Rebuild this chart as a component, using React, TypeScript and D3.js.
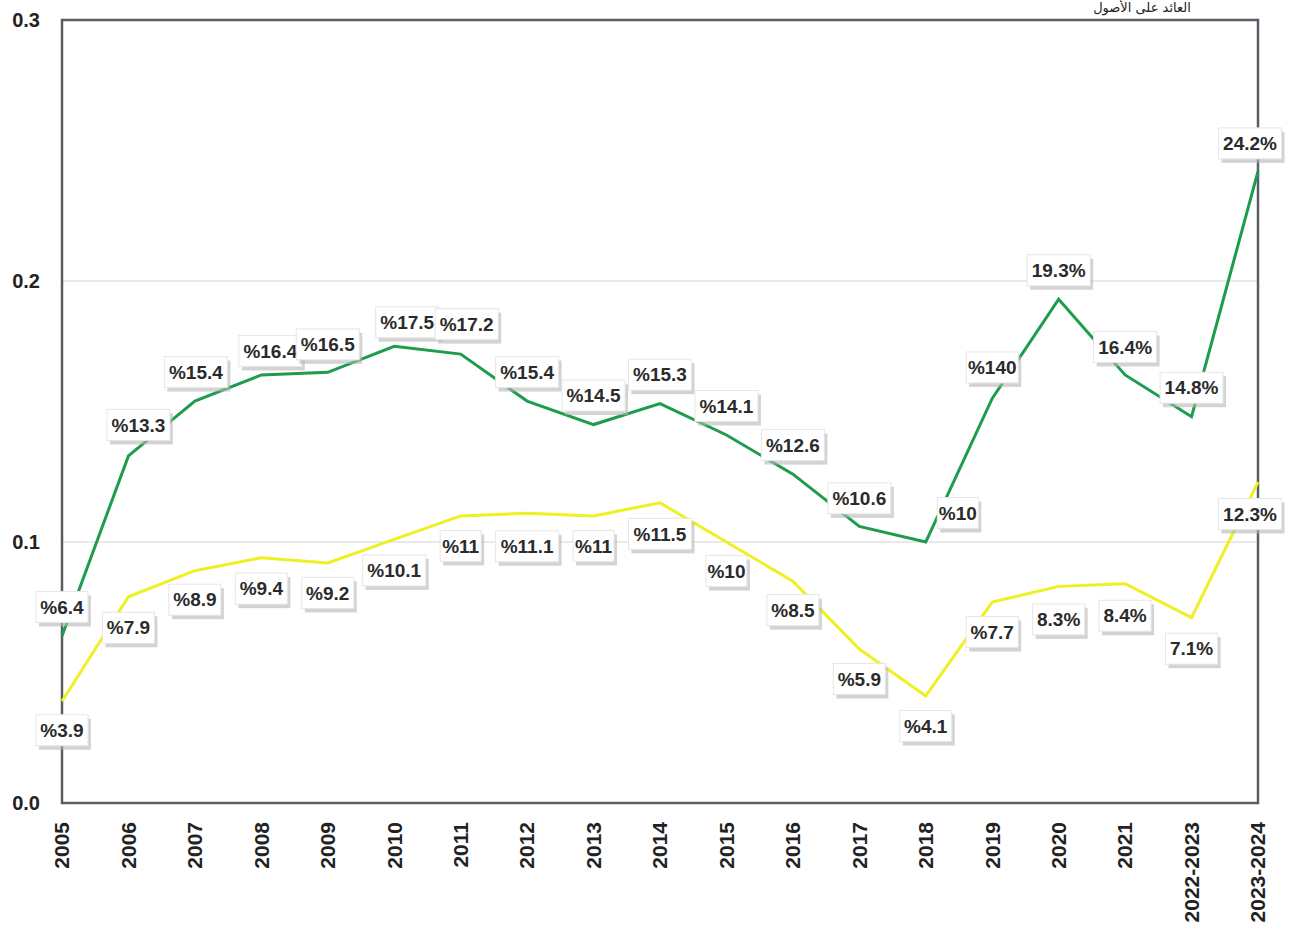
import { useMemo } from "react";
import * as d3 from "d3";

const WIDTH = 1291;
const HEIGHT = 942;
const MARGIN = { top: 20, right: 31, bottom: 139, left: 62 };

const categories = [
  "2005", "2006", "2007", "2008", "2009", "2010", "2011", "2012", "2013", "2014",
  "2015", "2016", "2017", "2018", "2019", "2020", "2021", "2022-2023", "2023-2024",
];

// green series (upper line) and yellow series (lower line)
const greenValues = [
  0.064, 0.133, 0.154, 0.164, 0.165, 0.175, 0.172, 0.154, 0.145, 0.153,
  0.141, 0.126, 0.106, 0.1, 0.155, 0.193, 0.164, 0.148, 0.242,
];
const greenLabels = [
  "%6.4", "%13.3", "%15.4", "%16.4", "%16.5", "%17.5", "%17.2", "%15.4", "%14.5", "%15.3",
  "%14.1", "%12.6", "%10.6", "%10", "%140", "19.3%", "16.4%", "14.8%", "24.2%",
];
const yellowValues = [
  0.039, 0.079, 0.089, 0.094, 0.092, 0.101, 0.11, 0.111, 0.11, 0.115,
  0.1, 0.085, 0.059, 0.041, 0.077, 0.083, 0.084, 0.071, 0.123,
];
const yellowLabels = [
  "%3.9", "%7.9", "%8.9", "%9.4", "%9.2", "%10.1", "%11", "%11.1", "%11", "%11.5",
  "%10", "%8.5", "%5.9", "%4.1", "%7.7", "8.3%", "8.4%", "7.1%", "12.3%",
];
const yTicks = [0, 0.1, 0.2, 0.3];

// label placement tweaks (dx, dy from the point)
const greenOffsets: [number, number][] = [
  [0, -29], [10, -31], [1, -29], [9, -24], [0, -28], [13, -24], [6, -30], [0, -29], [0, -29], [0, -29],
  [0, -29], [0, -29], [0, -28], [32, -29], [0, -31], [0, -29], [0, -28], [0, -29], [-8, -28],
];
const yellowOffsets: [number, number][] = [
  [0, 29], [0, 31], [0, 29], [0, 31], [0, 30], [0, 31], [0, 30], [0, 33], [0, 30], [0, 31],
  [0, 29], [0, 29], [0, 30], [0, 30], [0, 30], [0, 33], [0, 32], [0, 31], [-8, 32],
];

const GREEN = "#1e9c4e";
const YELLOW = "#eef022";

const Label = ({ x, y, text }: { x: number; y: number; text: string }) => {
  const w = text.length * 11 + 8;
  const h = 31;
  return (
    <g transform={`translate(${x},${y})`}>
      <rect x={-w / 2 + 3} y={-h / 2 + 4} width={w} height={h} fill="#b5b5b5" opacity={0.6} />
      <rect x={-w / 2} y={-h / 2} width={w} height={h} fill="#fff" stroke="#e6e6e6" />
      <text
        textAnchor="middle"
        dy="0.35em"
        fontSize={19}
        fontWeight="bold"
        fill="#2b2b2b"
        fontFamily="'Liberation Sans Narrow', Arial, sans-serif"
      >
        {text}
      </text>
    </g>
  );
};

export default function App() {
  const boundsWidth = WIDTH - MARGIN.left - MARGIN.right;
  const boundsHeight = HEIGHT - MARGIN.top - MARGIN.bottom;

  const xScale = useMemo(
    () => d3.scalePoint<string>().domain(categories).range([0, boundsWidth - 2]),
    [boundsWidth]
  );
  const yScale = useMemo(
    () => d3.scaleLinear().domain([0, 0.3]).range([boundsHeight, 0]),
    [boundsHeight]
  );

  const line = d3
    .line<number>()
    .x((_, i) => xScale(categories[i]) ?? 0)
    .y((d) => yScale(d));

  return (
    <svg
      width={WIDTH}
      height={HEIGHT}
      style={{ position: "absolute", left: 0, top: 0, background: "#fff" }}
      fontFamily="Arial, 'Liberation Sans', sans-serif"
    >
      <text x={1142} y={12} textAnchor="middle" fontSize={13} fill="#222" fontFamily="'DejaVu Sans', sans-serif">
        العائد على الأصول
      </text>
      <g transform={`translate(${MARGIN.left},${MARGIN.top})`}>
        {yTicks
          .filter((t) => t > 0 && t < 0.3)
          .map((t) => (
            <line key={t} x1={0} x2={boundsWidth - 2} y1={yScale(t)} y2={yScale(t)} stroke="#e2e2e2" strokeWidth={1.5} />
          ))}
        <rect x={0} y={0} width={boundsWidth - 2} height={boundsHeight} fill="none" stroke="#5a5d66" strokeWidth={2.5} />
        {yTicks.map((t) => (
          <text
            key={t}
            x={-22}
            y={yScale(t)}
            dy="0.35em"
            textAnchor="end"
            fontSize={20}
            fontWeight="bold"
            fill="#222"
          >
            {t.toFixed(1)}
          </text>
        ))}
        {categories.map((c) => (
          <text
            key={c}
            transform={`translate(${xScale(c)},${boundsHeight + 19}) rotate(-90)`}
            dy="0.35em"
            textAnchor="end"
            fontSize={21}
            fontWeight="bold"
            fill="#222"
          >
            {c}
          </text>
        ))}
        <path d={line(yellowValues) ?? ""} fill="none" stroke={YELLOW} strokeWidth={3} />
        <path d={line(greenValues) ?? ""} fill="none" stroke={GREEN} strokeWidth={3} />
        {greenValues.map((v, i) => (
          <Label
            key={"g" + i}
            x={(xScale(categories[i]) ?? 0) + greenOffsets[i][0]}
            y={yScale(v) + greenOffsets[i][1]}
            text={greenLabels[i]}
          />
        ))}
        {yellowValues.map((v, i) => (
          <Label
            key={"y" + i}
            x={(xScale(categories[i]) ?? 0) + yellowOffsets[i][0]}
            y={yScale(v) + yellowOffsets[i][1]}
            text={yellowLabels[i]}
          />
        ))}
      </g>
    </svg>
  );
}
